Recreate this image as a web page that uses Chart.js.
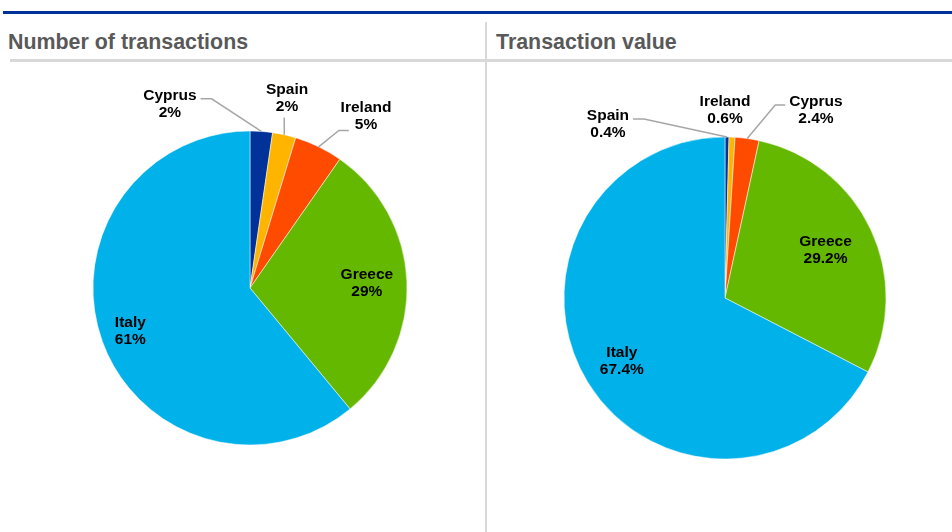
<!DOCTYPE html>
<html>
<head>
<meta charset="utf-8">
<script src="https://cdn.jsdelivr.net/npm/chart.js@4/dist/chart.umd.min.js"></script>
<style>
  body { margin: 0; background: #fff; font-family: "Liberation Sans", Arial, sans-serif; }
  #page { position: relative; width: 952px; height: 532px; overflow: hidden; }
  .linea-azul { position: absolute; left: 3px; top: 11px; width: 949px; height: 3px; background: #003299; }
  .linea-gris { position: absolute; left: 10px; top: 59px; width: 942px; height: 3px; background: #d9d9d9; }
  .divisor { position: absolute; left: 485px; top: 22px; width: 2px; height: 510px; background: #d9d9d9; }
  .titulo { position: absolute; top: 30px; font-weight: bold; font-size: 21.4px; color: #595959; white-space: nowrap; }
  .caja { position: absolute; top: 63px; height: 469px; }
</style>
</head>
<body>
<div id="page">
  <div class="linea-azul"></div>
  <div class="linea-gris"></div>
  <div class="divisor"></div>
  <div class="titulo" style="left:8px">Number of transactions</div>
  <div class="titulo" style="left:496px">Transaction value</div>
  <div class="caja" style="left:0px; width:487px"><canvas id="grafica-numero"></canvas></div>
  <div class="caja" style="left:487px; width:465px"><canvas id="grafica-valor"></canvas></div>
</div>
<script>
// datos (porcentajes)
var paisesNumero = ['Cyprus', 'Spain', 'Ireland', 'Greece', 'Italy'];
var valoresNumero = [2.3, 2.4, 5.0, 29.3, 61.0];

var paisesValor = ['Spain', 'Ireland', 'Cyprus', 'Greece', 'Italy'];
var valoresValor = [0.4, 0.6, 2.4, 29.2, 67.4];

// los colores van por posicion, no por pais
var colores = ['#003299', '#FFB400', '#FF4B00', '#65B800', '#00B1EA'];

// donde va cada etiqueta: r = dentro del sector, pos = fuera (en radios desde el centro)
var etiquetasNumero = [
  { pos: [-0.51, -1.17], lead: 'r1' },
  { pos: [0.236, -1.21], lead: 'b' },
  { pos: [0.739, -1.096], lead: 'l2' },
  { r: 0.745 },
  { r: 0.81 }
];
var etiquetasValor = [
  { pos: [-0.727, -1.078], lead: 'r1' },
  { pos: [0, -1.168] },
  { pos: [0.565, -1.165], lead: 'l1' },
  { r: 0.69 },
  { r: 0.75 }
];

// plugin para dibujar las etiquetas con sus lineas guia
var pluginEtiquetas = {
  id: 'etiquetas',
  afterDatasetsDraw: function(chart, args, opts) {
    var ctx = chart.ctx;
    var meta = chart.getDatasetMeta(0);
    var datos = chart.data.datasets[0].data;
    ctx.save();
    ctx.font = 'bold 15.5px "Liberation Sans", Arial, sans-serif';
    ctx.textAlign = 'center';
    ctx.textBaseline = 'middle';
    meta.data.forEach(function(arc, i) {
      var p = arc.getProps(['x', 'y', 'startAngle', 'endAngle', 'outerRadius'], true);
      var lay = opts.layout[i];
      var mid = (p.startAngle + p.endAngle) / 2;
      var l1 = chart.data.labels[i];
      var l2 = datos[i].toFixed(opts.decimales) + '%';
      var cx, cy;
      if (lay.pos) {
        cx = p.x + lay.pos[0] * p.outerRadius;
        cy = p.y + lay.pos[1] * p.outerRadius;
      } else {
        cx = p.x + Math.cos(mid) * lay.r * p.outerRadius;
        cy = p.y + Math.sin(mid) * lay.r * p.outerRadius;
      }
      var y1 = cy - 8.5, y2 = cy + 8.5;
      if (lay.lead) {
        var ax = p.x + Math.cos(mid) * p.outerRadius;
        var ay = p.y + Math.sin(mid) * p.outerRadius;
        var w1 = ctx.measureText(l1).width, w2 = ctx.measureText(l2).width;
        var sx, sy, ex;
        if (lay.lead == 'r1') { sx = cx + w1 / 2 + 4; sy = y1 + 3; ex = sx + 11; }
        else if (lay.lead == 'l1') { sx = cx - w1 / 2 - 4; sy = y1 + 3; ex = sx - 10; }
        else if (lay.lead == 'l2') { sx = cx - w2 / 2 - 6; sy = y2 + 6; ex = sx - 10; }
        else { sx = ax; sy = y2 + 11; ex = ax; }
        ctx.strokeStyle = '#a6a6a6';
        ctx.lineWidth = 1.5;
        ctx.beginPath();
        ctx.moveTo(sx, sy);
        ctx.lineTo(ex, sy);
        ctx.lineTo(ax, ay);
        ctx.stroke();
      }
      ctx.fillStyle = '#000';
      ctx.fillText(l1, cx, y1);
      ctx.fillText(l2, cx, y2);
    });
    ctx.restore();
  }
};

function hacerPie(id, paises, valores, radio, padding, layout, decimales) {
  var ctx = document.getElementById(id).getContext('2d');
  return new Chart(ctx, {
    type: 'pie',
    data: {
      labels: paises,
      datasets: [{
        data: valores,
        backgroundColor: colores,
        borderColor: '#ffffff',
        borderWidth: 0.5
      }]
    },
    options: {
      responsive: true,
      maintainAspectRatio: false,
      animation: false,
      events: [],
      radius: radio,
      layout: { padding: padding },
      plugins: {
        legend: { display: false },
        tooltip: { enabled: false },
        etiquetas: { layout: layout, decimales: decimales }
      }
    },
    plugins: [pluginEtiquetas]
  });
}

// grafica 1 numero de transacciones
var graficaNumero = hacerPie('grafica-numero', paisesNumero, valoresNumero, 157,
  { left: 20, right: 7, top: 10, bottom: 29 }, etiquetasNumero, 0);

// grafica 2 valor de transacciones
var graficaValor = hacerPie('grafica-valor', paisesValor, valoresValor, 161,
  { left: 20, right: 9, top: 10, bottom: 9 }, etiquetasValor, 1);
</script>
</body>
</html>
